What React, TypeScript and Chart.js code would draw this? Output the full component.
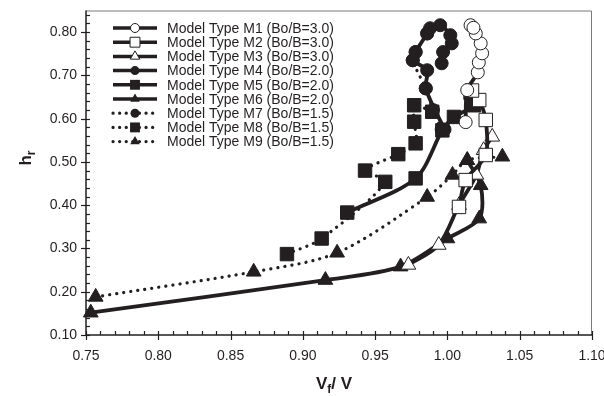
import React, { useEffect, useRef } from "react";
import { Chart, registerables } from "chart.js";

Chart.register(...registerables);

const INK = "#231f20";

const seriesNames = [
  "Model Type M1 (Bo/B=3.0)",
  "Model Type M2 (Bo/B=3.0)",
  "Model Type M3 (Bo/B=3.0)",
  "Model Type M4 (Bo/B=2.0)",
  "Model Type M5 (Bo/B=2.0)",
  "Model Type M6 (Bo/B=2.0)",
  "Model Type M7 (Bo/B=1.5)",
  "Model Type M8 (Bo/B=1.5)",
  "Model Type M9 (Bo/B=1.5)",
];

const m1X = [1.0126, 1.0137, 1.021, 1.0217, 1.024, 1.023, 1.0196, 1.016, 1.018];
const m1Y = [0.592, 0.666, 0.707, 0.73, 0.751, 0.774, 0.797, 0.816, 0.81];
const m2X = [1.008, 1.0126, 1.0265, 1.0265, 1.022, 1.017];
const m2Y = [0.396, 0.458, 0.516, 0.597, 0.643, 0.665];
const m3X = [0.973, 0.994, 1.008, 1.02, 1.025, 1.031];
const m3Y = [0.262, 0.308, 0.4, 0.47, 0.527, 0.558];
const m4X = [0.998, 0.985, 0.986, 0.976, 0.978, 0.986, 0.988, 0.995, 1.002, 1.003, 0.997, 0.996];
const m4Y = [0.575, 0.67, 0.712, 0.735, 0.754, 0.797, 0.809, 0.816, 0.793, 0.774, 0.754, 0.728];
const m5X = [0.9307, 0.978, 0.9965, 1.0045, 1.0184, 1.016];
const m5Y = [0.383, 0.462, 0.573, 0.604, 0.631, 0.66];
const m6X = [0.7533, 0.9156, 0.9676, 1.0, 1.022, 1.023, 1.0137];
const m6Y = [0.1515, 0.227, 0.258, 0.323, 0.369, 0.446, 0.504];
const m7X = [0.996, 0.99, 0.985, 0.976, 0.978, 0.986];
const m7Y = [0.575, 0.62, 0.67, 0.735, 0.754, 0.797];
const m8X = [0.889, 0.913, 0.957, 0.943, 0.966, 0.978, 0.977, 0.977, 0.9895];
const m8Y = [0.287, 0.323, 0.454, 0.48, 0.518, 0.543, 0.593, 0.631, 0.616];
const m9X = [0.7567, 0.866, 0.9237, 0.986, 1.0035, 1.0137, 1.038];
const m9Y = [0.188, 0.246, 0.29, 0.419, 0.47, 0.504, 0.512];

const xMajorTicks = ["0.75", "0.80", "0.85", "0.90", "0.95", "1.00", "1.05", "1.10"];
const yMajorTicks = ["0.10", "0.20", "0.30", "0.40", "0.50", "0.60", "0.70", "0.80"];

const seriesX = [m1X, m2X, m3X, m4X, m5X, m6X, m7X, m8X, m9X];
const seriesY = [m1Y, m2Y, m3Y, m4Y, m5Y, m6Y, m7Y, m8Y, m9Y];
const markerShape = ["circle", "rect", "triangle", "circle", "rect", "triangle", "circle", "rect", "triangle"];
const markerFilled = [false, false, false, true, true, true, true, true, true];
const dotted = [false, false, false, false, false, false, true, true, true];

const markerRadius: Record<string, number> = { circle: 6.5, rect: 9.5, triangle: 8.5 };

function drawMarker(ctx: CanvasRenderingContext2D, shape: string, x: number, y: number, r: number, filled: boolean) {
  ctx.save();
  ctx.beginPath();
  if (shape === "circle") {
    ctx.arc(x, y, r, 0, Math.PI * 2);
  } else if (shape === "rect") {
    const s = r * Math.SQRT1_2;
    ctx.rect(x - s, y - s, 2 * s, 2 * s);
  } else {
    const h = r * 1.5;
    const w = r * Math.sqrt(3) / 2;
    ctx.moveTo(x, y - r);
    ctx.lineTo(x + w, y + h - r);
    ctx.lineTo(x - w, y + h - r);
    ctx.closePath();
  }
  if (filled) {
    ctx.fillStyle = INK;
    ctx.fill();
  } else {
    ctx.fillStyle = "#ffffff";
    ctx.fill();
    ctx.strokeStyle = INK;
    ctx.lineWidth = 1;
    ctx.stroke();
  }
  ctx.restore();
}

const decorPlugin = {
  id: "decor",
  afterDatasetsDraw(chart: any) {
    const ctx: CanvasRenderingContext2D = chart.ctx;
    const xs = chart.scales.x;
    const ys = chart.scales.y;
    const area = chart.chartArea;
    ctx.save();
    // frame
    ctx.strokeStyle = "#7a7a7a";
    ctx.lineWidth = 1;
    ctx.beginPath();
    ctx.moveTo(area.left, area.top + 0.5);
    ctx.lineTo(area.right - 0.5, area.top + 0.5);
    ctx.lineTo(area.right - 0.5, area.bottom);
    ctx.stroke();
    ctx.strokeStyle = INK;
    ctx.lineWidth = 1.5;
    ctx.beginPath();
    ctx.moveTo(area.left, area.top);
    ctx.lineTo(area.left, area.bottom);
    ctx.lineTo(area.right, area.bottom);
    ctx.stroke();

    // x ticks
    ctx.lineWidth = 1.2;
    for (let i = 0; i <= 35; i++) {
      const v = 0.75 + i * 0.01;
      const px = Math.round(xs.getPixelForValue(v)) + 0.5;
      ctx.beginPath();
      if (i % 5 === 0) {
        ctx.moveTo(px, area.bottom - 4);
        ctx.lineTo(px, area.bottom + 5);
      } else {
        ctx.moveTo(px, area.bottom - 4);
        ctx.lineTo(px, area.bottom);
      }
      ctx.stroke();
    }
    // y ticks
    for (let i = 0; i <= 37; i++) {
      const v = 0.1 + i * 0.02;
      if (v > 0.851) break;
      const py = Math.round(ys.getPixelForValue(v)) + 0.5;
      ctx.beginPath();
      if (i % 5 === 0) {
        ctx.moveTo(area.left - 5, py);
        ctx.lineTo(area.left + 4, py);
      } else {
        ctx.moveTo(area.left, py);
        ctx.lineTo(area.left + 4, py);
      }
      ctx.stroke();
    }
    // tick labels
    ctx.fillStyle = INK;
    ctx.font = "14px 'Liberation Sans', Arial, sans-serif";
    ctx.textAlign = "center";
    ctx.textBaseline = "middle";
    xMajorTicks.forEach((t) => {
      ctx.fillText(t, xs.getPixelForValue(parseFloat(t)), area.bottom + 21);
    });
    ctx.textAlign = "right";
    yMajorTicks.forEach((t) => {
      ctx.fillText(t, area.left - 9, ys.getPixelForValue(parseFloat(t)));
    });

    // axis titles
    ctx.font = "bold 17px 'Liberation Sans', Arial, sans-serif";
    ctx.textAlign = "left";
    ctx.textBaseline = "alphabetic";
    const cx = (area.left + area.right) / 2 - 5;
    const ty = 389;
    const wV = ctx.measureText("V").width;
    ctx.font = "bold 12px 'Liberation Sans', Arial, sans-serif";
    const wf = ctx.measureText("f").width;
    ctx.font = "bold 17px 'Liberation Sans', Arial, sans-serif";
    const wRest = ctx.measureText("/ V").width;
    let sx = cx - (wV + wf + wRest) / 2;
    ctx.fillText("V", sx, ty);
    sx += wV;
    ctx.font = "bold 12px 'Liberation Sans', Arial, sans-serif";
    ctx.fillText("f", sx, ty + 4);
    sx += wf;
    ctx.font = "bold 17px 'Liberation Sans', Arial, sans-serif";
    ctx.fillText("/ V", sx, ty);

    ctx.save();
    ctx.translate(31, 158);
    ctx.rotate(-Math.PI / 2);
    const wh = ctx.measureText("h").width;
    ctx.font = "bold 12px 'Liberation Sans', Arial, sans-serif";
    const wr = ctx.measureText("r").width;
    ctx.font = "bold 17px 'Liberation Sans', Arial, sans-serif";
    ctx.fillText("h", -(wh + wr) / 2, 0);
    ctx.font = "bold 12px 'Liberation Sans', Arial, sans-serif";
    ctx.fillText("r", -(wh + wr) / 2 + wh, 4);
    ctx.restore();

    // legend
    ctx.font = "14px 'Liberation Sans', Arial, sans-serif";
    ctx.textBaseline = "middle";
    ctx.textAlign = "left";
    seriesNames.forEach((name, i) => {
      const y = 28 + i * 14.2;
      const x0 = 113;
      const x1 = 157;
      ctx.save();
      ctx.strokeStyle = INK;
      if (dotted[i]) {
        ctx.lineWidth = 3.2;
        ctx.lineCap = "round";
        ctx.setLineDash([0.1, 6.5]);
      } else {
        ctx.lineWidth = 3.5;
      }
      ctx.beginPath();
      ctx.moveTo(x0, y);
      ctx.lineTo(x1, y);
      ctx.stroke();
      ctx.restore();
      const r = markerShape[i] === "rect" ? 7 : markerShape[i] === "triangle" ? 5.5 : 4.5;
      drawMarker(ctx, markerShape[i], (x0 + x1) / 2, y, r, markerFilled[i]);
      ctx.fillStyle = INK;
      ctx.fillText(name, 167, y + 1);
    });
    ctx.restore();
  },
};

export default function App() {
  const canvasRef = useRef<HTMLCanvasElement | null>(null);
  useEffect(() => {
    document.body.style.margin = "0";
    const canvas = canvasRef.current!;
    const datasets = seriesNames.map((name, i) => ({
      label: name,
      data: seriesX[i].map((x, j) => ({ x, y: seriesY[i][j] })),
      showLine: true,
      borderColor: INK,
      borderWidth: dotted[i] ? 3.2 : 3.8,
      borderDash: dotted[i] ? [0.1, 7] : [],
      borderCapStyle: dotted[i] ? ("round" as const) : ("butt" as const),
      pointStyle: markerShape[i],
      pointRadius: markerRadius[markerShape[i]],
      pointBackgroundColor: markerFilled[i] ? INK : "#ffffff",
      pointBorderColor: INK,
      pointBorderWidth: 1,
      tension: 0.3,
      clip: false as any,
    }));
    const chart = new Chart(canvas, {
      type: "scatter",
      data: { datasets },
      options: {
        animation: false,
        responsive: false,
        maintainAspectRatio: false,
        layout: { padding: { left: 86, right: 12, top: 10, bottom: 61 } },
        plugins: { legend: { display: false }, tooltip: { enabled: false } },
        scales: {
          x: { type: "linear", min: 0.75, max: 1.1, display: false },
          y: { type: "linear", min: 0.1, max: 0.85, display: false },
        },
      },
      plugins: [decorPlugin],
    });
    return () => chart.destroy();
  }, []);
  return (
    <div style={{ position: "absolute", left: 0, top: 0, width: 604, height: 396, background: "#fff" }}>
      <canvas ref={canvasRef} width={604} height={396} style={{ width: 604, height: 396, display: "block" }} />
    </div>
  );
}
